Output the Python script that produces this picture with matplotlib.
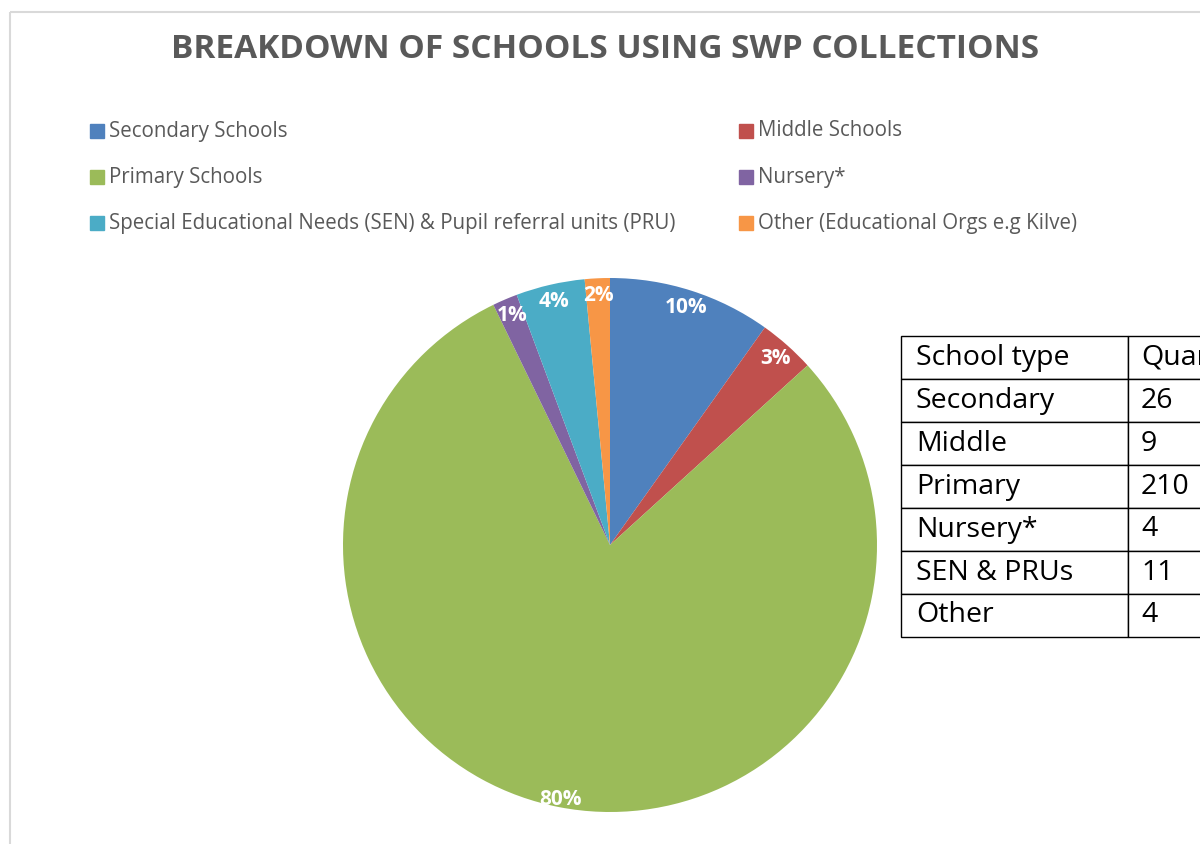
import numpy as np
import matplotlib.pyplot as plt
from matplotlib.patches import Rectangle

# data
legend_names = ['Secondary Schools', 'Middle Schools', 'Primary Schools', 'Nursery*',
                'Special Educational Needs (SEN) & Pupil referral units (PRU)',
                'Other (Educational Orgs e.g Kilve)']
table_names = ['Secondary', 'Middle', 'Primary', 'Nursery*', 'SEN & PRUs', 'Other']
counts = [26, 9, 210, 4, 11, 4]
colors = ['#4F81BD', '#C0504D', '#9BBB59', '#8064A2', '#4BACC6', '#F79646']

plt.rcParams['font.family'] = ['Open Sans', 'DejaVu Sans']

W, H = 1200, 844
fig = plt.figure(figsize=(12, 8.44), dpi=100)

# whole-figure helper axes (frame, title, legend)
bg = fig.add_axes([0, 0, 1, 1])
bg.set_xlim(0, W)
bg.set_ylim(H, 0)
bg.axis('off')
bg.add_patch(Rectangle((10, 12), W + 20, H + 20, fill=False, edgecolor='#d9d9d9', lw=1.5))
bg.text(605, 49, 'BREAKDOWN OF SCHOOLS USING SWP COLLECTIONS', ha='center', va='center',
        fontsize=24, fontweight='bold', color='#595959')

# legend, two columns filled row by row
for k, (name, c) in enumerate(zip(legend_names, colors)):
    x0 = 90 if k % 2 == 0 else 739
    y0 = 131 + 46 * (k // 2)
    bg.add_patch(Rectangle((x0, y0 - 7), 14, 14, color=c))
    bg.text(x0 + 19, y0, name, ha='left', va='center', fontsize=14.8, color='#595959')

# percentages rounded so they add up to 100 (largest remainder)
total = sum(counts)
raw = [c * 100 / total for c in counts]
pcts = [int(r) for r in raw]
order = sorted(range(len(raw)), key=lambda i: (raw[i] - int(raw[i]), i), reverse=True)
for i in order[:100 - sum(pcts)]:
    pcts[i] += 1

# pie
cx, cy, r = 610, 545, 267
ax = fig.add_axes([(cx - r) / W, (H - cy - r) / H, 2 * r / W, 2 * r / H])
wedges, _ = ax.pie(counts, colors=colors, startangle=90, counterclock=False, radius=1)
for w, p in zip(wedges, pcts):
    mid = np.deg2rad((w.theta1 + w.theta2) / 2)
    d = 0.935 if p < 50 else 0.97
    ax.text(d * np.cos(mid), d * np.sin(mid), f'{p}%', ha='center', va='center',
            color='white', fontsize=15, fontweight='bold')
ax.set_xlim(-1, 1)
ax.set_ylim(-1, 1)
ax.axis('off')

# table on the right, cut off by the figure edge
tax = fig.add_axes([901 / W, (H - 637) / H, 400 / W, 301 / H])
tax.axis('off')
cells = [[n, str(c)] for n, c in zip(table_names, counts)]
tbl = tax.table(cellText=cells, colLabels=['School type', 'Quantity'], cellLoc='left',
                colLoc='left', colWidths=[227 / 400, 173 / 400], bbox=[0, 0, 1, 1])
tbl.auto_set_font_size(False)
for (row, col), cell in tbl.get_celld().items():
    cell.set_edgecolor('black')
    cell.set_linewidth(1)
    cell.set_text_props(fontsize=20.5, color='black')
    cell.PAD = 0.066 if col == 0 else 0.075

fig.savefig('out.png', dpi=100)
